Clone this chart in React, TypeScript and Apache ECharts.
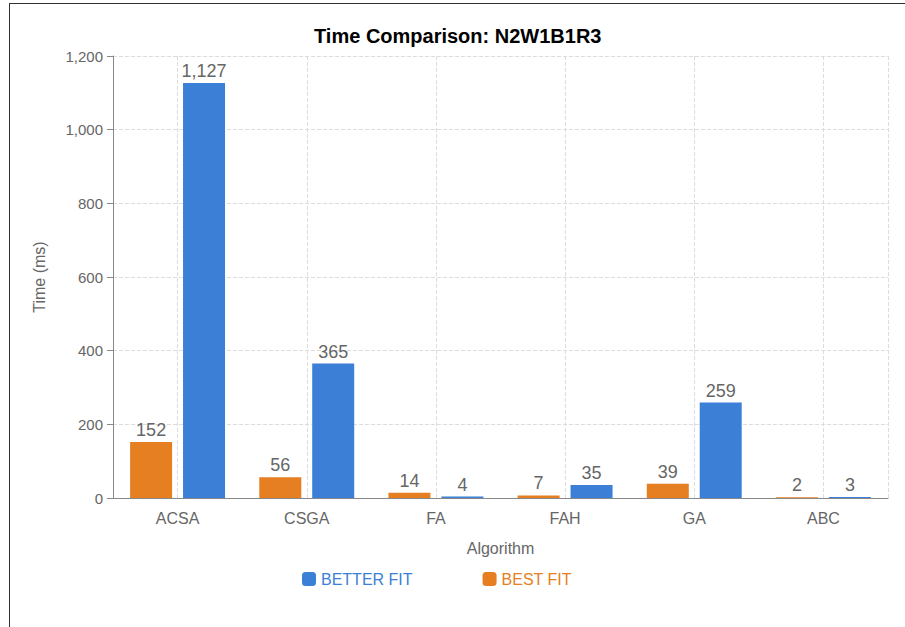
import React, { useEffect, useRef } from "react";
import * as echarts from "echarts";

const categories = ["ACSA", "CSGA", "FA", "FAH", "GA", "ABC"];
const bestFit = [152, 56, 14, 7, 39, 2];
const betterFit = [1127, 365, 4, 35, 259, 3];
const yTicks = { min: 0, max: 1200, interval: 200 };

const BLUE = "#3B7FD6";
const ORANGE = "#E67E22";
const FONT = "'Liberation Sans', Arial, sans-serif";

export default function App() {
  const ref = useRef<HTMLDivElement>(null);

  useEffect(() => {
    if (!ref.current) return;
    const chart = echarts.init(ref.current, null, { renderer: "svg" });

    // half-step category axis used only to place vertical grid lines at category centres
    const halfSteps = categories.flatMap(() => ["", ""]);

    const label = {
      show: true,
      position: "top" as const,
      distance: 3,
      color: "#666",
      fontSize: 18,
      formatter: (p: any) => Number(p.value).toLocaleString("en-US"),
    };

    chart.setOption({
      animation: false,
      textStyle: { fontFamily: FONT },
      title: {
        text: "Time Comparison: N2W1B1R3",
        left: 309,
        top: 21,
        textStyle: { fontSize: 20, fontWeight: "bold", color: "#000", fontFamily: FONT },
      },
      grid: { left: 113, right: 17, top: 56, bottom: 129, containLabel: false },
      legend: {
        data: [
          { name: "BETTER FIT", textStyle: { color: BLUE } },
          { name: "BEST FIT", textStyle: { color: ORANGE } },
        ],
        left: 297,
        top: 566,
        icon: "roundRect",
        itemWidth: 14,
        itemHeight: 14,
        itemGap: 70,
        textStyle: { fontSize: 16, fontFamily: FONT },
      },
      xAxis: [
        {
          type: "category",
          data: categories,
          name: "Algorithm",
          nameLocation: "middle",
          nameGap: 42,
          nameTextStyle: { color: "#666", fontSize: 16 },
          axisLine: { lineStyle: { color: "#888" } },
          axisTick: { alignWithLabel: true, length: 6, lineStyle: { color: "#888" } },
          axisLabel: { color: "#666", fontSize: 16, margin: 12 },
          splitLine: { show: false },
        },
        {
          type: "category",
          data: halfSteps,
          position: "bottom",
          axisLine: { show: false },
          axisTick: { show: false },
          axisLabel: { show: false },
          splitLine: {
            show: true,
            interval: (i: number) => i % 2 === 1,
            lineStyle: { color: "#ddd", type: "dashed" },
          },
        },
      ],
      yAxis: {
        type: "value",
        min: yTicks.min,
        max: yTicks.max,
        interval: yTicks.interval,
        name: "Time (ms)",
        nameLocation: "middle",
        nameGap: 66,
        nameTextStyle: { color: "#666", fontSize: 16 },
        axisLine: { show: true, lineStyle: { color: "#888" } },
        axisTick: { show: true, length: 6, lineStyle: { color: "#888" } },
        axisLabel: { color: "#666", fontSize: 15, margin: 10 },
        splitLine: { lineStyle: { color: "#ddd", type: "dashed" } },
      },
      series: [
        {
          name: "BEST FIT",
          type: "bar",
          xAxisIndex: 0,
          data: bestFit,
          barWidth: 42,
          barGap: "26%",
          itemStyle: { color: ORANGE },
          label,
        },
        {
          name: "BETTER FIT",
          type: "bar",
          xAxisIndex: 0,
          data: betterFit,
          barWidth: 42,
          barGap: "26%",
          itemStyle: { color: BLUE },
          label,
        },
      ],
    });

    return () => chart.dispose();
  }, []);

  return (
    <>
      <div
        ref={ref}
        style={{ position: "fixed", left: 0, top: 0, width: 905, height: 627, background: "#fff" }}
      />
      <div
        style={{
          position: "fixed",
          left: 9,
          top: 3,
          width: 1200,
          height: 1200,
          border: "1px solid #333",
          pointerEvents: "none",
        }}
      />
    </>
  );
}
